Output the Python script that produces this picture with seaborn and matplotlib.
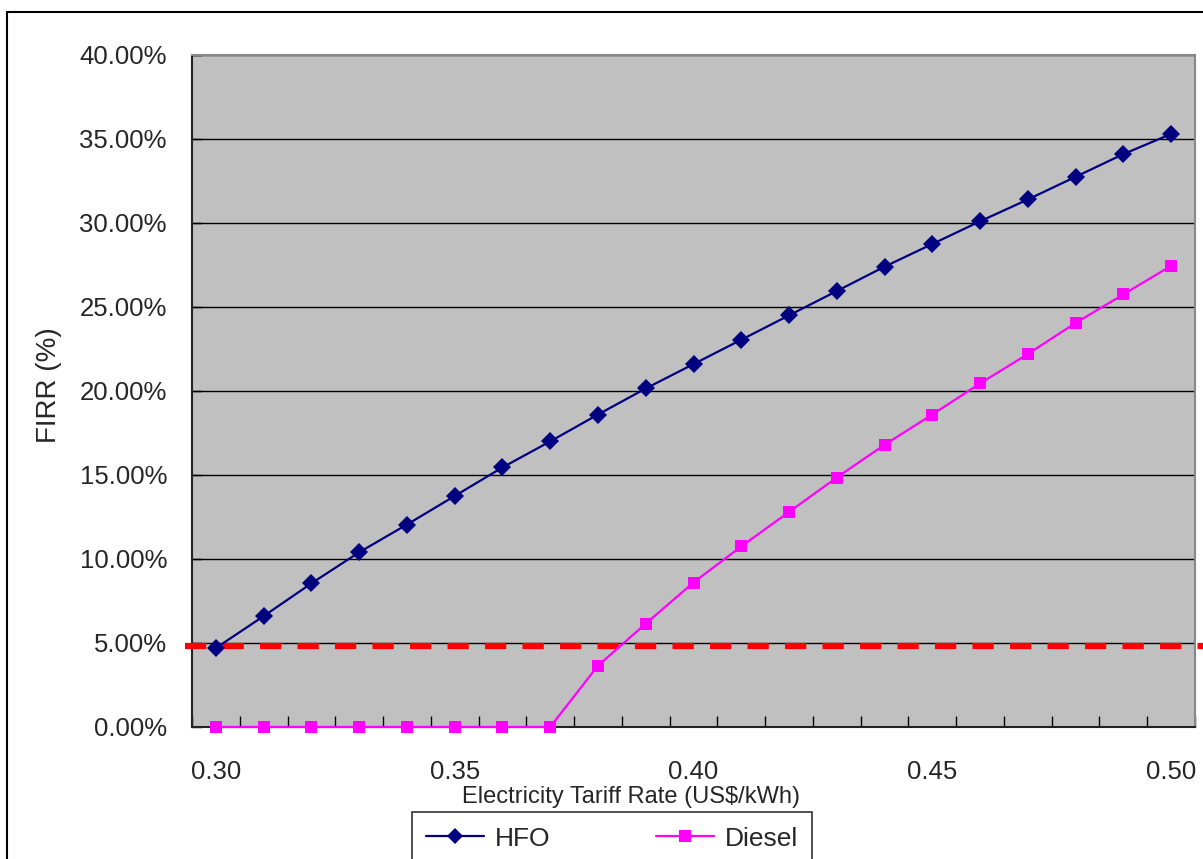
"""FIRR vs electricity tariff rate for HFO and Diesel plants."""

import matplotlib
matplotlib.use("Agg")
import matplotlib.pyplot as plt
from matplotlib.lines import Line2D
from matplotlib.ticker import FixedLocator, FuncFormatter
import pandas as pd
import seaborn as sns

# Data
tariff = [0.30, 0.31, 0.32, 0.33, 0.34, 0.35, 0.36, 0.37, 0.38, 0.39, 0.40,
          0.41, 0.42, 0.43, 0.44, 0.45, 0.46, 0.47, 0.48, 0.49, 0.50]
hfo_firr = [4.70, 6.60, 8.55, 10.40, 12.05, 13.75, 15.45, 17.00, 18.60, 20.15, 21.60,
            23.05, 24.50, 25.95, 27.40, 28.75, 30.10, 31.40, 32.75, 34.10, 35.30]
diesel_firr = [0.00, 0.00, 0.00, 0.00, 0.00, 0.00, 0.00, 0.00, 3.65, 6.15, 8.60,
               10.75, 12.80, 14.85, 16.80, 18.60, 20.45, 22.20, 24.05, 25.75, 27.45]
hurdle_rate = 4.8
x_tick_labels = ["0.30", "0.35", "0.40", "0.45", "0.50"]
y_ticks = [0, 5, 10, 15, 20, 25, 30, 35, 40]

df = pd.concat([
    pd.DataFrame({"tariff": tariff, "firr": hfo_firr, "fuel": "HFO"}),
    pd.DataFrame({"tariff": tariff, "firr": diesel_firr, "fuel": "Diesel"}),
])

sns.set_style("white")
plt.rcParams["font.family"] = ["Liberation Sans", "DejaVu Sans"]

fig = plt.figure(figsize=(12.03, 8.59), dpi=100)
ax = fig.add_axes([192 / 1203, 1 - 727 / 859, (1195 - 192) / 1203, (727 - 55) / 859])
ax.set_facecolor("#c0c0c0")

sns.lineplot(
    data=df, x="tariff", y="firr", hue="fuel", style="fuel",
    palette={"HFO": "#000080", "Diesel": "#ff00ff"},
    markers={"HFO": "D", "Diesel": "s"}, dashes=False,
    markersize=9, markeredgewidth=0, linewidth=1.6, ax=ax, legend=False, zorder=4,
)
for line in ax.lines:
    line.set_clip_on(False)

# hurdle rate line, runs slightly past the plot area
ax.axhline(hurdle_rate, xmin=-0.007, xmax=1.02, color="#ff0000", linewidth=4.5,
           dashes=(3.4, 2.6), clip_on=False, zorder=3)

ax.set_xlim(0.295, 0.505)
ax.set_ylim(0, 40)
ax.set_xticks([float(t) for t in x_tick_labels])
ax.set_xticklabels(x_tick_labels)
ax.xaxis.set_minor_locator(FixedLocator([0.295 + 0.01 * i for i in range(22)]))
ax.tick_params(axis="x", which="major", length=0, pad=24, labelsize=18.5)
ax.tick_params(axis="x", which="minor", direction="in", length=8, width=1, color="black", bottom=True)
ax.set_yticks(y_ticks)
ax.yaxis.set_major_formatter(FuncFormatter(lambda v, _: f"{v:.2f}%"))
ax.tick_params(axis="y", direction="in", length=7, width=1, color="black", left=True, labelsize=18.5, pad=18)

ax.grid(axis="y", color="black", linewidth=1)
ax.set_axisbelow(True)
for side in ["top", "right"]:
    ax.spines[side].set_color("#888888")
    ax.spines[side].set_linewidth(1.5)
for side in ["left", "bottom"]:
    ax.spines[side].set_color("#222222")
    ax.spines[side].set_linewidth(1.5)

ax.set_xlabel("")
ax.set_ylabel("")
fig.text(631 / 1203, 1 - 797 / 859, "Electricity Tariff Rate (US$/kWh)", ha="center", va="center", fontsize=17)
fig.text(49 / 1203, 1 - 385 / 859, "FIRR (%)", ha="center", va="center", rotation=90, fontsize=20)

# legend below, cut off by the figure edge
handles = [
    Line2D([], [], color="#000080", marker="D", markersize=8, linewidth=1.6, markeredgewidth=0),
    Line2D([], [], color="#ff00ff", marker="s", markersize=8, linewidth=1.6, markeredgewidth=0),
]
leg = fig.legend(handles, ["HFO", "Diesel"], ncol=2, loc="upper center",
                 bbox_to_anchor=(612 / 1203, 1 - 812 / 859), fontsize=19,
                 frameon=True, fancybox=False, edgecolor="black", handlelength=2.2,
                 columnspacing=4.0, borderpad=0.55, handletextpad=0.4, borderaxespad=0)
leg.get_frame().set_linewidth(1.2)

# outer chart border (left and top visible)
fig.add_artist(Line2D([7 / 1203, 7 / 1203], [0, 1 - 12 / 859], color="black", linewidth=1.5))
fig.add_artist(Line2D([7 / 1203, 1], [1 - 12 / 859, 1 - 12 / 859], color="black", linewidth=1.5))

fig.savefig("out.png", dpi=100)
